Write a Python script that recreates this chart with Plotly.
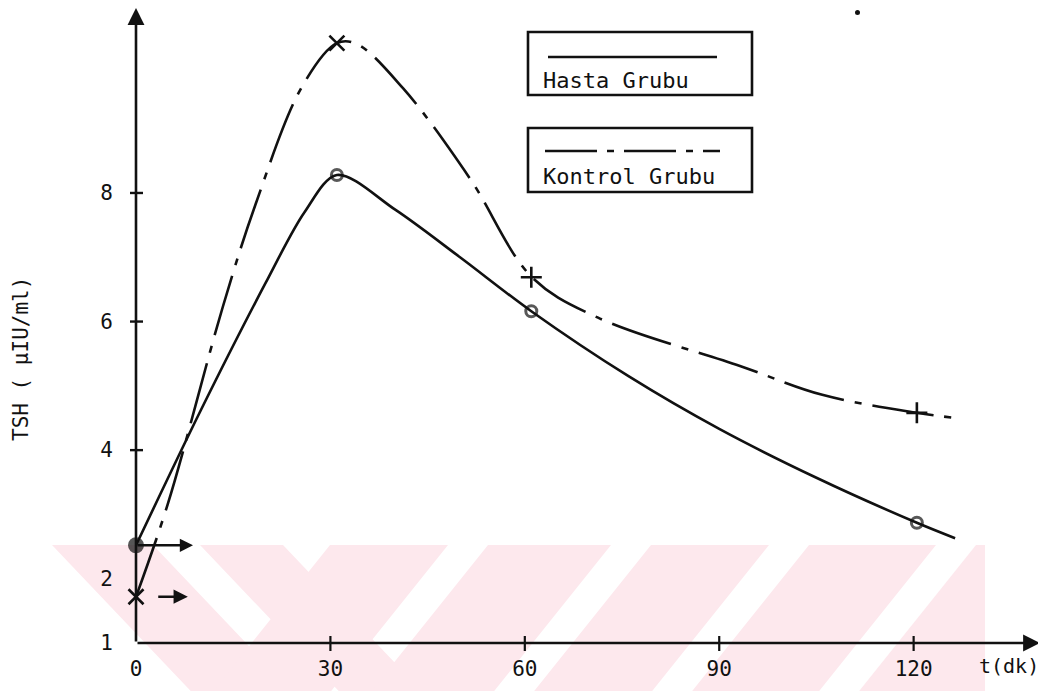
import plotly.graph_objects as go

# ---- data ----
hasta_t = [0, 31, 61, 120.5]
hasta_tsh = [2.52, 8.28, 6.16, 2.87]
kontrol_t = [0, 31, 61, 120.5]
kontrol_tsh = [1.72, 10.33, 6.69, 4.58]

# drawn curves
hasta_curve_t = [0, 10, 20, 26, 31, 40, 50, 61, 76, 90, 105, 120.5, 126.4]
hasta_curve_v = [2.52, 4.62, 6.60, 7.70, 8.28, 7.74, 7.00, 6.16, 5.15, 4.33, 3.57, 2.87, 2.63]
kontrol_curve_t = [0, 4.9, 13.4, 18.4, 25.6, 31, 34, 41.2, 51.5, 61.1, 71.3, 93.2, 105.9, 120.5, 126.4]
kontrol_curve_v = [1.72, 3.16, 6.23, 7.81, 9.65, 10.33, 10.32, 9.63, 8.23, 6.69, 6.06, 5.31, 4.86, 4.58, 4.50]

x_ticks = [0, 30, 60, 90, 120]
y_ticks = [1, 2, 4, 6, 8]
x_tick_marks = [30, 60, 90, 120]
y_tick_marks = [4, 6, 8]

series_names = ["Hasta Grubu", "Kontrol Grubu"]
x_title = "t(dk)"
y_title = "TSH ( \u03bcIU/ml)"

# ---- layout geometry (page body has an 8px margin) ----
OFF = 8
W, H = 1046 - OFF, 691 - OFF
L, R, T, B = 128, 6, 0, 48
PW, PH = W - L - R, H - T - B
XR = [0, 139.5]
YR = [1, 1 + PH / 64.29]

def px(xp):
    return (xp - OFF - L) / PW

def py(yp):
    return (H - B - (yp - OFF)) / PH

MONO = "DejaVu Sans Mono, Liberation Mono, monospace"
INK = "#111111"
KDASH = "62px,11px,7px,11px"

fig = go.Figure()

fig.add_trace(go.Scatter(x=hasta_curve_t, y=hasta_curve_v, mode="lines",
                         line=dict(color=INK, width=2.6, shape="spline", smoothing=0.9),
                         showlegend=False, hoverinfo="skip"))
fig.add_trace(go.Scatter(x=kontrol_curve_t, y=kontrol_curve_v, mode="lines",
                         line=dict(color=INK, width=2.6, shape="spline", smoothing=1.0, dash=KDASH),
                         showlegend=False, hoverinfo="skip"))
fig.add_trace(go.Scatter(x=hasta_t, y=hasta_tsh, mode="markers", name=series_names[0],
                         marker=dict(symbol=["circle", "circle-open", "circle-open", "circle-open"],
                                     size=[13, 11, 11, 11], color=INK, line=dict(color=INK, width=3)),
                         showlegend=False, cliponaxis=False))
fig.add_trace(go.Scatter(x=kontrol_t, y=kontrol_tsh, mode="markers", name=series_names[1],
                         marker=dict(symbol=["x-thin", "x-thin", "cross-thin", "cross-thin"],
                                     size=15, color=INK, line=dict(color=INK, width=2.6)),
                         showlegend=False, cliponaxis=False))

shapes = []
# watermark stripes (light pink, opaque so overlaps stay flat), clipped to x<=985
wm_fill = "rgb(253,232,237)"
top_y, bot_y = 545, 691
d = bot_y - top_y
back_bands = [(52, 153, 0.95), (200, 283, 0.95)]
fwd_bands = [(330, 448, 0.8), (488, 611, 0.8), (651, 769, 0.8), (809, 936, 0.8)]
for a, b, s in back_bands:
    path = (f"M {px(a)} {py(top_y)} L {px(b)} {py(top_y)} "
            f"L {px(b + s * d)} {py(bot_y)} L {px(a + s * d)} {py(bot_y)} Z")
    shapes.append(dict(type="path", path=path, xref="paper", yref="paper",
                       fillcolor=wm_fill, line=dict(width=0), layer="below"))
for a, b, s in fwd_bands:
    path = (f"M {px(a)} {py(top_y)} L {px(b)} {py(top_y)} "
            f"L {px(b - s * d)} {py(bot_y)} L {px(a - s * d)} {py(bot_y)} Z")
    shapes.append(dict(type="path", path=path, xref="paper", yref="paper",
                       fillcolor=wm_fill, line=dict(width=0), layer="below"))
edge_x = 985
a = 976
path = (f"M {px(a)} {py(top_y)} L {px(edge_x)} {py(top_y)} L {px(edge_x)} {py(bot_y)} "
        f"L {px(a - 0.8 * d)} {py(bot_y)} Z")
shapes.append(dict(type="path", path=path, xref="paper", yref="paper",
                   fillcolor=wm_fill, line=dict(width=0), layer="below"))

# hand-drawn tick marks crossing the axes
for v in y_tick_marks:
    shapes.append(dict(type="line", xref="paper", yref="y", x0=px(130), x1=px(143), y0=v, y1=v,
                       line=dict(color=INK, width=2.4)))
for v in x_tick_marks:
    shapes.append(dict(type="line", xref="x", yref="paper", x0=v, x1=v, y0=py(651), y1=py(636),
                       line=dict(color=INK, width=2.2)))

# legend boxes
for (x0, y0, x1, y1) in [(528, 32, 752, 95), (528, 128, 752, 192)]:
    shapes.append(dict(type="rect", xref="paper", yref="paper",
                       x0=px(x0), x1=px(x1), y0=py(y1), y1=py(y0),
                       line=dict(color=INK, width=2.6), fillcolor="white"))
shapes.append(dict(type="line", xref="paper", yref="paper", x0=px(548), x1=px(717),
                   y0=py(57), y1=py(57), line=dict(color=INK, width=2.6)))
shapes.append(dict(type="line", xref="paper", yref="paper", x0=px(545), x1=px(720),
                   y0=py(151), y1=py(151), line=dict(color=INK, width=2.6, dash="52px,10px,7px,10px")))
# scan speck
shapes.append(dict(type="circle", xref="paper", yref="paper", x0=px(855), x1=px(860),
                   y0=py(15), y1=py(10), fillcolor=INK, line=dict(width=0)))

TXT = dict(family=MONO, size=22, color=INK)
annotations = [
    dict(text=series_names[0], xref="paper", yref="paper", x=px(541), y=py(80),
         xanchor="left", yanchor="middle", showarrow=False, font=TXT),
    dict(text=series_names[1], xref="paper", yref="paper", x=px(541), y=py(176),
         xanchor="left", yanchor="middle", showarrow=False, font=TXT),
    dict(text=x_title, xref="paper", yref="paper", x=px(1009), y=py(666),
         xanchor="center", yanchor="middle", showarrow=False, font=dict(family=MONO, size=20, color=INK)),
    dict(text=y_title, xref="paper", yref="paper", x=px(21), y=py(359), textangle=-90,
         xanchor="center", yanchor="middle", showarrow=False, font=dict(family=MONO, size=21, color=INK)),
    # axes drawn as arrows from the origin
    dict(x=XR[1], y=YR[0], ax=0, ay=YR[0], xref="x", yref="y", axref="x", ayref="y",
         text="", showarrow=True, arrowhead=2, arrowsize=1.3, arrowwidth=2.6, arrowcolor=INK),
    dict(x=0, y=YR[1], ax=0, ay=YR[0], xref="x", yref="y", axref="x", ayref="y",
         text="", showarrow=True, arrowhead=2, arrowsize=1.3, arrowwidth=2.6, arrowcolor=INK),
    # start-value arrows at t=0
    dict(x=8.8, y=hasta_tsh[0], ax=0, ay=hasta_tsh[0], xref="x", yref="y", axref="x", ayref="y",
         text="", showarrow=True, arrowhead=2, arrowsize=1.1, arrowwidth=2.4, arrowcolor=INK),
    dict(x=8.0, y=kontrol_tsh[0], ax=3.2, ay=kontrol_tsh[0], xref="x", yref="y", axref="x", ayref="y",
         text="", showarrow=True, arrowhead=2, arrowsize=1.1, arrowwidth=2.6, arrowcolor=INK),
]

TICKF = dict(family=MONO, size=21, color=INK)
fig.update_layout(
    width=W, height=H,
    margin=dict(l=L, r=R, t=T, b=B, pad=0),
    paper_bgcolor="white", plot_bgcolor="white",
    showlegend=False,
    shapes=shapes, annotations=annotations,
    xaxis=dict(range=XR, tickvals=x_ticks, ticktext=[str(v) for v in x_ticks],
               showgrid=False, zeroline=False, showline=False,
               ticks="outside", ticklen=6, tickwidth=2, tickcolor="rgba(0,0,0,0)", ticklabelstandoff=1,
               tickfont=TICKF, fixedrange=True),
    yaxis=dict(range=YR, tickvals=y_ticks, ticktext=[str(v) for v in y_ticks],
               showgrid=False, zeroline=False, showline=False,
               ticks="outside", ticklen=6, tickwidth=2, tickcolor="rgba(0,0,0,0)", ticklabelstandoff=12,
               tickfont=TICKF, fixedrange=True),
)

fig.write_html("out.html")
